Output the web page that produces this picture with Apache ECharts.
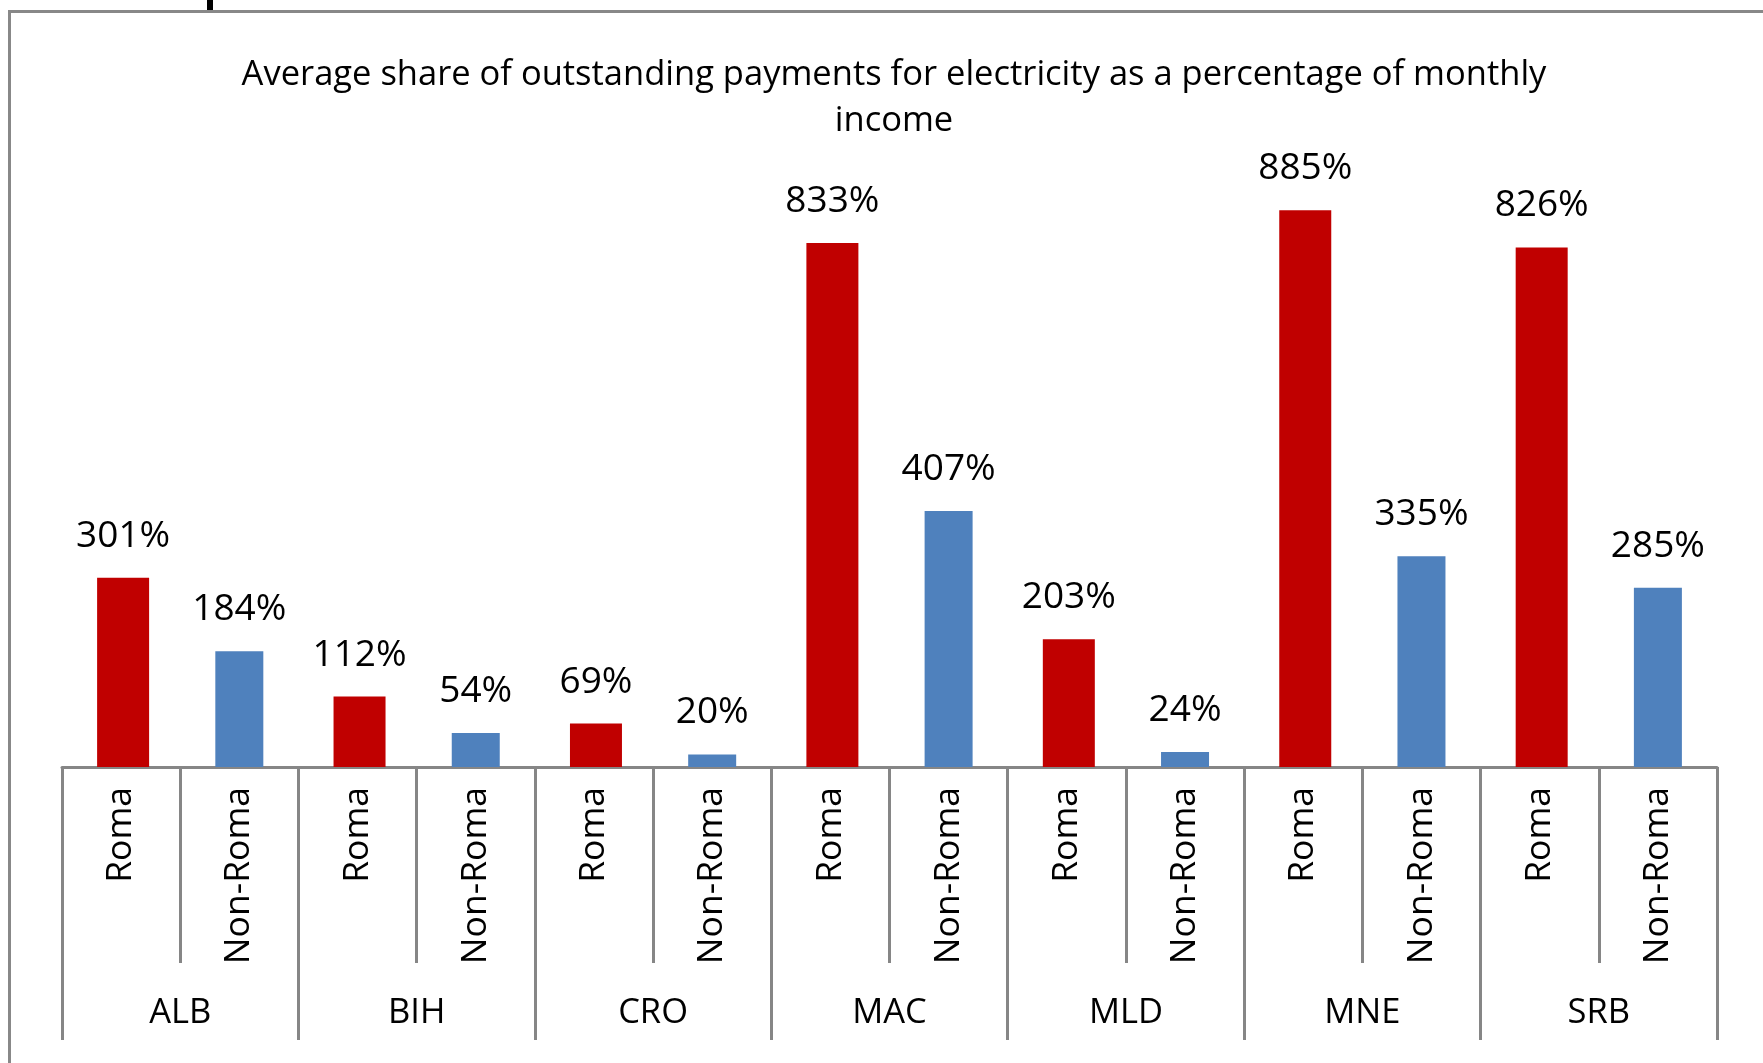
<!DOCTYPE html>
<html>
<head>
<meta charset="utf-8">
<script src="https://cdn.jsdelivr.net/npm/echarts@6/dist/echarts.min.js"></script>
<style>
  html, body { margin: 0; padding: 0; background: #fff; }
  #chart { width: 1763px; height: 1063px; }
</style>
</head>
<body>
<div id="chart"></div>
<script>
const countries = ["ALB", "BIH", "CRO", "MAC", "MLD", "MNE", "SRB"];
const groups = ["Roma", "Non-Roma"];
const romaValues = [301, 112, 69, 833, 203, 885, 826];
const nonRomaValues = [184, 54, 20, 407, 24, 335, 285];

const font = "'Open Sans', sans-serif";

// 14 slots: Roma / Non-Roma for each country
const slots = [];
const romaData = [];
const nonRomaData = [];
countries.forEach((c, i) => {
  slots.push(groups[0], groups[1]);
  romaData.push(romaValues[i], "-");
  nonRomaData.push("-", nonRomaValues[i]);
});

const chart = echarts.init(document.getElementById("chart"));
chart.setOption({
  backgroundColor: "#fff",
  animation: false,
  title: {
    text: "Average share of outstanding payments for electricity as a percentage of monthly\nincome",
    left: 889,
    top: 47,
    textAlign: "center",
    textStyle: {
      fontFamily: font,
      fontSize: 34.5,
      fontWeight: "normal",
      color: "#000",
      lineHeight: 46,
    },
  },
  graphic: [
    // outer frame from the page
    {
      type: "rect",
      shape: { x: 9.5, y: 11.5, width: 1800, height: 1100 },
      style: { fill: "none", stroke: "#888", lineWidth: 3 },
      silent: true,
    },
    {
      type: "rect",
      shape: { x: 207, y: 0, width: 6, height: 10 },
      style: { fill: "#000" },
      silent: true,
    },
  ],
  grid: { left: 62, right: 46, top: 138, bottom: 296 },
  xAxis: [
    {
      type: "category",
      data: slots,
      position: "bottom",
      axisLine: { show: true, lineStyle: { color: "#868686", width: 3 } },
      axisTick: {
        show: true,
        length: 196,
        interval: 0,
        alignWithLabel: false,
        lineStyle: { color: "#868686", width: 3 },
      },
      axisLabel: {
        interval: 0,
        rotate: 90,
        margin: 20,
        fontFamily: font,
        fontSize: 35.5,
        color: "#000",
      },
    },
    {
      type: "category",
      data: countries,
      position: "bottom",
      offset: 0,
      axisLine: { show: false },
      axisTick: {
        show: true,
        length: 273,
        interval: 0,
        alignWithLabel: false,
        lineStyle: { color: "#868686", width: 3 },
      },
      axisLabel: {
        interval: 0,
        margin: 229,
        fontFamily: font,
        fontSize: 34.5,
        color: "#000",
      },
    },
  ],
  yAxis: { type: "value", min: 0, max: 1000, show: false },
  series: [
    {
      name: "Roma",
      type: "bar",
      data: romaData,
      barWidth: 52,
      barGap: "-100%",
      itemStyle: { color: "#C00000" },
      label: {
        show: true,
        position: "top",
        distance: 23,
        formatter: "{c}%",
        fontFamily: font,
        fontSize: 37,
        color: "#000",
      },
    },
    {
      name: "Non-Roma",
      type: "bar",
      data: nonRomaData,
      barWidth: 48,
      itemStyle: { color: "#4F81BD" },
      label: {
        show: true,
        position: "top",
        distance: 23,
        formatter: "{c}%",
        fontFamily: font,
        fontSize: 37,
        color: "#000",
      },
    },
  ],
});
</script>
</body>
</html>
